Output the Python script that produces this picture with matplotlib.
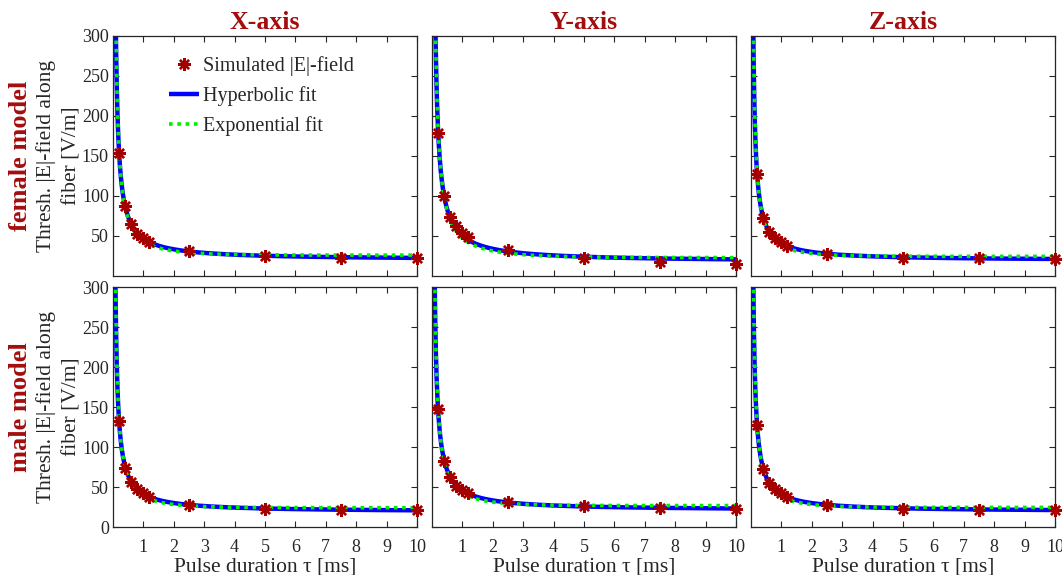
import numpy as np
import matplotlib
matplotlib.use('Agg')
import matplotlib.pyplot as plt

# ---------------- data ----------------
tau = [0.2, 0.4, 0.6, 0.8, 1.0, 1.2, 2.5, 5.0, 7.5, 10.0]   # pulse duration [ms]

female_x = [154, 87, 65, 53, 47, 43, 31, 25, 23, 22.5]
female_y = [179, 100, 74, 62, 54, 49, 32.5, 22.5, 17.5, 14.6]
female_z = [128, 73, 55, 47, 42, 37.5, 27.5, 23, 22, 21]
male_x = [133, 74, 56, 47, 42.5, 37.5, 27, 23, 21.7, 21.7]
male_y = [147, 83, 62, 51, 46, 42.5, 31, 26, 24, 23]
male_z = [128, 72, 55, 47, 42, 37.5, 27.5, 23, 21.7, 21]

col_titles = ['X-axis', 'Y-axis', 'Z-axis']
row_titles = ['female model', 'male model']
rows = [[female_x, female_y, female_z], [male_x, male_y, male_z]]

xticks = [1, 2, 3, 4, 5, 6, 7, 8, 9, 10]
yticks_top = [50, 100, 150, 200, 250, 300]
yticks_bottom = [0, 50, 100, 150, 200, 250, 300]

legend_labels = ['Simulated |E|-field', 'Hyperbolic fit', 'Exponential fit']
xlabel = 'Pulse duration τ [ms]'
ylabel = 'Thresh. |E|-field along\nfiber [V/m]'

# ---------------- fits computed from the simulated points ----------------
def hyperbolic_fit(t, e):
    t = np.asarray(t, float); e = np.asarray(e, float)
    A = np.column_stack([np.ones_like(t), 1.0 / t])
    coef, *_ = np.linalg.lstsq(A, e, rcond=None)
    return lambda x: coef[0] + coef[1] / x

def exponential_fit(t, e):
    t = np.asarray(t, float); e = np.asarray(e, float)
    best = None
    for c in np.linspace(0.05, 5, 2000):
        f = 1.0 / (1.0 - np.exp(-t / c))
        b = np.dot(e, f) / np.dot(f, f)
        r = np.sum((e - b * f) ** 2)
        if best is None or r < best[0]:
            best = (r, b, c)
    _, b, c = best
    return lambda x: b / (1.0 - np.exp(-x / c))

# ---------------- style ----------------
plt.rcParams['font.family'] = ['Liberation Serif', 'DejaVu Serif']
text_col = '#262626'
red_txt = '#a30d0d'
marker_col = '#a50000'

W, H = 1062, 575
fig = plt.figure(figsize=(W / 100, H / 100), dpi=100)

col_left = [113, 432, 751]
col_w = 304
row_top = [36, 287]
row_h = 240

tt = np.geomspace(0.02, 10, 3000)

for r in range(2):
    for c in range(3):
        l = col_left[c] / W
        b = 1 - (row_top[r] + row_h) / H
        ax = fig.add_axes([l, b, col_w / W, row_h / H])
        vals = rows[r][c]
        hfit = hyperbolic_fit(tau, vals)
        efit = exponential_fit(tau, vals)
        ax.plot(tt, hfit(tt), color='#0000ff', lw=3.2, solid_capstyle='butt', zorder=2,
                label=legend_labels[1])
        ax.plot(tt, efit(tt), color='#00ee00', lw=2.6, linestyle=(0, (1, 1.3)), zorder=3,
                label=legend_labels[2])
        ax.plot(tau, vals, linestyle='none', marker=(8, 2, 0), ms=9, mew=1.7,
                color=marker_col, zorder=4, label=legend_labels[0], clip_on=False)
        ax.set_xlim(0, 10)
        ax.set_ylim(0, 300)
        ax.set_xticks(xticks)
        ax.set_yticks(yticks_top if r == 0 else yticks_bottom)
        ax.tick_params(direction='in', top=True, right=True, length=4, width=0.8,
                       colors=text_col, labelsize=13, pad=3)
        ax.tick_params(axis='x', pad=9)
        for s in ax.spines.values():
            s.set_color(text_col)
            s.set_linewidth(0.9)
        if r == 0:
            ax.set_xticklabels([])
            ax.set_title(col_titles[c], fontsize=18.5, fontweight='bold', color=red_txt, pad=5)
        else:
            ax.set_xlabel(xlabel, fontsize=15.5, color=text_col, labelpad=1)
        if c != 0:
            ax.set_yticklabels([])
        if r == 0 and c == 0:
            h, lab = ax.get_legend_handles_labels()
            order = [2, 0, 1]
            leg = ax.legend([h[i] for i in order], [lab[i] for i in order],
                            loc='upper left', bbox_to_anchor=(0.185, 0.915),
                            frameon=False, fontsize=14.5, borderpad=0, borderaxespad=0,
                            handlelength=1.5, handletextpad=0.2, labelspacing=0.5)
            for t in leg.get_texts():
                t.set_color(text_col)

for r in range(2):
    yc = 1 - (row_top[r] + row_h / 2) / H
    fig.text(21 / W, yc, row_titles[r], rotation=90, ha='center', va='center',
             fontsize=19, fontweight='bold', color=red_txt)
    fig.text(59 / W, yc, ylabel, rotation=90, ha='center', va='center',
             fontsize=15.5, color=text_col, multialignment='center', linespacing=1.45)

fig.savefig('out.png', dpi=100)
